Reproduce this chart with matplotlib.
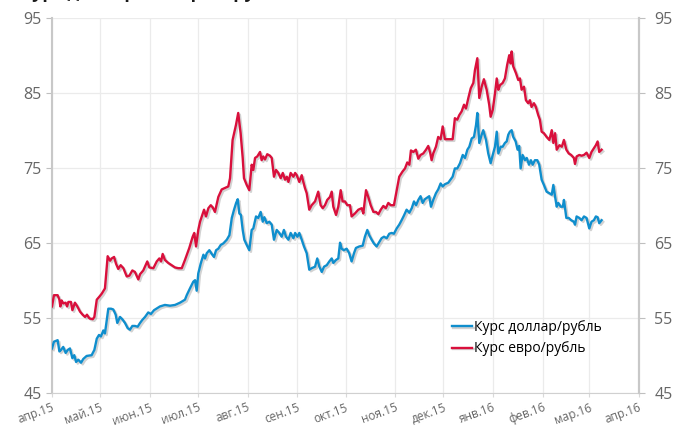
import matplotlib
matplotlib.use('Agg')
import matplotlib.pyplot as plt
import matplotlib.dates as mdates
import matplotlib.patheffects as pe
import pandas as pd

plt.rcParams['font.family'] = ['Open Sans', 'DejaVu Sans']

start = pd.Timestamp('2015-04-01')

# days from 2015-04-01 and rate values
usd_day = [0, 1.2, 3.5, 4.6, 5.6, 7, 8.5, 9.8, 11.2, 12.7, 13.9, 15, 16.4, 18.1, 19.5, 21.6, 24.7, 26.4,
           27.9, 29.3, 30.5, 32, 33, 35.1, 36.8, 38.2, 39.7, 40.7, 42.4, 43.8, 45.5, 47.2, 48.6, 50.1,
           51.7, 53.4, 54.9, 56.3, 58, 60, 61.7, 63.6, 67.3, 70.4, 73.6, 76.7, 79.8, 82.9,
           84, 86, 88.1, 89.2, 90.2, 91.2, 92.7, 94.4, 95.4, 96.5, 98.1, 99.6, 101, 102.3, 103.7, 105.2,
           106.8, 109, 110.6, 112.1, 113.5, 114.8, 115.8, 116.8, 117.8, 118.9, 119.9, 121.4, 123,
           124.5, 125.5, 127.2, 128.6, 130.1, 131.4, 132.4, 133.9, 135.5, 137, 138.4, 140.1, 141.7, 143.2,
           144.6, 145.9, 147.4, 148.8, 150.5, 151.6, 153, 154.2, 155.7, 157.1, 158.8, 160.4, 161.9, 164,
           165.4, 166.7, 168.2, 169.6, 171.3, 172.9, 174.4, 175.4, 177.1, 178.5, 179.6, 180.6, 182, 183.7,
           185.3, 186.8, 188.3,
           189.5, 191.6, 193.7, 195.1, 196.6, 197.8, 199.3, 200.7, 202.4, 204.1, 205.5, 207, 208.7, 210.3,
           211.8, 213.2, 214.9, 216.5, 218, 219.4, 221.1, 222.8, 224.3, 225.7, 227, 228.4, 229.8, 231.1,
           232.5, 233.9, 235.2, 236.3, 237.7, 239.4, 240.8, 242.3, 243.6, 245, 247.1,
           249.8, 251.2, 252.7, 254.4, 256.1, 257.5, 259, 260.2, 261.7, 263.1, 264.4, 265.2, 266.4, 267.9,
           268.9, 270.6, 272, 273.5, 274.8, 276.2, 277.3, 278.3, 279.8, 281, 282.4, 283.5, 284.5, 285.5,
           286.6, 287.6, 289.1, 290.3, 291.3, 292.2, 293.4, 294.9, 296, 297.4, 298.6, 299.7, 301.1, 302.6,
           303.8, 305.3, 306.7, 308.4, 310.1, 311.6, 312.6, 313.7, 314.7, 315.7, 317.2, 318.5, 319.2,
           320.7, 322.2, 323.7, 325.4, 326.1, 327.1, 328.8, 330.2, 331.7, 333.3, 335, 336.4, 337.9, 339.1,
           340.2, 341.2, 342.7]
usd_val = [50.9, 51.8, 52.0, 50.5, 50.7, 51.1, 50.3, 50.7, 50.9, 49.6, 50.0, 49.1, 49.4, 49.0, 49.5, 49.9, 50.0, 50.7,
           52.2, 52.7, 52.5, 53.3, 52.9, 56.2, 56.2, 56.1, 55.4, 54.3, 55.1, 54.8, 54.3, 53.6, 53.4, 53.9,
           53.9, 53.8, 54.3, 54.7, 55.1, 55.7, 55.5, 56.0, 56.5, 56.7, 56.6, 56.7, 57.0, 57.4,
           58.0, 58.9, 59.8, 60.0, 58.6, 60.9, 62.2, 63.4, 62.9, 63.6, 64.0, 63.5, 63.1, 64.0, 64.2, 64.7,
           64.9, 65.4, 66.0, 68.3, 69.4, 70.3, 70.8, 68.9, 68.7, 66.7, 65.4, 64.7, 64.0,
           66.7, 66.9, 68.5, 68.3, 69.1, 67.8, 68.4, 67.6, 67.8, 67.4, 65.4, 66.7, 66.3, 65.8,
           66.7, 65.8, 65.4, 66.3, 65.6, 66.3, 65.8, 66.3, 65.4, 64.5, 63.6, 61.4, 61.6, 61.8,
           62.9, 61.8, 61.1, 61.8, 62.0, 62.5, 62.9, 62.3, 62.7, 62.9, 65.0, 64.2, 64.0, 64.2,
           63.6, 62.5, 63.6,
           64.3, 64.5, 64.6, 65.8, 66.7, 66.0, 65.4, 64.9, 64.5, 65.1, 65.6, 65.8, 65.6, 66.2,
           66.3, 66.2, 66.9, 67.4, 68.0, 68.6, 69.4, 69.0, 69.6, 70.5, 70.0, 70.7, 71.2, 70.3,
           70.8, 71.0, 71.2, 69.8, 70.7, 71.6, 72.1, 72.9, 72.5, 72.8, 73.0,
           73.8, 74.9, 74.9, 75.6, 76.7, 76.3, 77.4, 77.8, 78.9, 79.1, 80.7, 82.3, 78.3, 79.4,
           80.0, 78.7, 76.9, 75.6, 76.7, 77.8, 79.8, 76.9, 77.8, 77.8, 78.3, 78.5, 79.4, 79.8,
           80.0, 79.1, 78.5, 77.4, 77.9, 74.9, 76.7, 76.0, 76.3, 75.4, 76.0, 75.4, 76.0, 76.0,
           75.4, 73.4, 72.7, 71.8, 71.6, 71.4, 72.7, 71.1, 69.8, 70.3, 69.8, 69.8, 70.7,
           68.3, 68.3, 68.0, 67.8, 67.4, 68.5, 68.3, 68.0, 68.5, 68.3, 66.9, 67.8, 68.0, 68.5,
           68.4, 67.6, 68.0]

eur_day = [0, 1.2, 3.5, 4.6, 5.2, 6, 7, 8.5, 9.4, 10.2, 11.8, 12.7, 14.3, 15.8, 17.5, 19.1, 20.6, 21.8, 23.3,
           25.4, 26.4, 27.9, 29.5, 31, 33, 34.7, 36.2, 37.2, 38.7, 39.9, 41.3, 42.8, 44.5, 46.6, 48.2, 50.1,
           51.7, 53.8, 54.9, 56.9, 59.4, 60.7,
           63.2, 65.3, 66.9, 68, 69, 70.4, 72.5, 74.6, 76.7, 78.7, 80.9, 82.9, 85.6, 87.7, 88.7, 89.8, 91.2,
           92.3, 93.7, 94.8, 96, 97.5, 99, 100.2, 101.6, 103.7, 105.8, 109.9, 111, 112.6, 114.7, 116.1,
           117.6, 118.9, 119.7, 121.4, 123,
           124.5, 125.5, 126.6, 128, 129.7, 130.7, 131.7, 132.8, 134.2, 135.9, 137, 138.4, 139.7, 141.1,
           142.6, 143.9, 145.3, 146.4, 147.4, 148.8, 150.5, 151.6, 152.6, 154.2, 155.7, 156.7, 157.7,
           158.8, 160.4, 161.9, 164, 166, 167.5, 168.8, 170.2, 171.6, 173.3, 174.4, 175.4, 177.1, 178.5,
           180, 181.2, 182.7, 184.1,
           185.8, 186.8, 188.9, 191, 193.1, 194.1, 195.8, 197.2, 198.7, 200.4, 202, 203.5, 205, 206.6,
           208.1, 209.7, 211.2, 213.2, 214.9, 216.5, 218.6, 220.1, 221.5, 222.8, 223.8, 225.3, 226.9,
           228.4, 229.8, 231.5, 233.2, 234.6, 235.7, 236.7, 237.7, 239.4, 240.8, 242.3, 243.6, 245, 247.1,
           249.8, 251.2, 252.7, 253.9, 255.4, 256.9, 258.1, 259.6, 261.1, 262.7, 263.7, 265.2, 266.4,
           267.9, 269.3, 271, 272.6, 273.5, 274.8, 276.2, 277.3, 278.3, 279.3, 281, 282.4, 283.8, 285.1,
           286, 286.6, 287.6, 289.3, 290.7, 291.8, 292.8, 294.3, 295.5, 296.9, 298, 299, 300.5, 301.7,
           303.2, 304.2, 305.3, 306.7, 308.4, 310.1, 311.6, 312.6, 313.7, 314.7, 316.4, 317.9, 319.2,
           320.7, 322.2, 323.7, 325.4, 326.1, 327.1, 328.8, 330.2, 331.7, 333.3, 335, 336.4, 337.9,
           339.1, 340.2, 341.2, 342.7]
eur_val = [56.5, 58.0, 58.0, 57.4, 56.5, 57.3, 56.9, 57.0, 56.5, 57.1, 57.1, 56.0, 57.0, 56.5, 55.8, 55.4, 55.1, 55.4, 54.9,
           54.8, 55.1, 57.4, 57.8, 58.2, 58.9, 63.2, 62.6, 62.9, 63.1, 62.2, 61.5, 62.0, 61.6, 60.5, 60.6, 61.3,
           61.1, 60.1, 60.8, 61.3, 62.5, 61.7,
           61.6, 62.5, 62.9, 62.5, 63.5, 62.7, 62.3, 62.0, 61.7, 61.6, 61.6, 62.7, 64.3, 65.8, 66.3, 64.5, 66.7,
           67.8, 68.7, 69.4, 68.5, 69.6, 70.0, 69.7, 69.1, 71.1, 72.1, 72.5, 73.6, 78.7, 80.7, 82.3,
           79.6, 76.3, 73.6, 72.7, 72.0,
           75.4, 74.7, 76.3, 76.5, 77.1, 76.0, 76.5, 76.1, 76.8, 76.6, 76.3, 73.8, 74.7, 74.3,
           73.6, 74.3, 73.4, 73.8, 73.1, 74.3, 73.8, 74.3, 74.0, 73.1, 74.0, 73.1, 72.3,
           71.6, 69.4, 70.0, 70.5, 71.8, 70.0, 69.6, 70.0, 70.7, 71.1, 71.8, 69.8, 68.7, 69.8,
           72.0, 70.5, 70.5, 70.0,
           70.0, 68.5, 68.9, 69.4, 69.6, 68.9, 72.0, 71.1, 70.0, 69.1, 69.1, 68.8, 69.4, 69.9,
           69.6, 70.3, 70.0, 70.0, 72.0, 73.8, 74.5, 74.9, 75.7, 75.4, 77.3, 77.1, 77.4,
           76.2, 76.7, 76.9, 77.4, 77.9, 77.1, 76.0, 76.9, 77.8, 79.1, 78.8, 80.5, 78.8, 78.8,
           78.8, 81.6, 81.4, 82.0, 82.5, 83.4, 82.9, 84.3, 85.6, 86.3, 88.0, 89.6, 84.3,
           85.8, 86.8, 85.4, 83.4, 81.8, 82.7, 84.9, 86.9, 85.4, 86.0, 86.3, 86.9, 88.7, 90.0,
           88.9, 90.5, 88.5, 87.6, 86.7, 86.9, 85.4, 85.8, 84.0, 83.6, 84.0, 83.1, 83.6, 83.1,
           82.0, 81.4, 79.8, 79.6, 79.1, 78.7, 80.0, 78.3, 79.6, 77.4, 78.0, 77.8, 78.7,
           77.4, 76.9, 76.7, 76.3, 75.5, 76.5, 76.7, 76.6, 76.7, 77.0, 76.3, 77.1, 77.6,
           78.0, 78.5, 77.1, 77.4]

month_labels = ['апр.15', 'май.15', 'июн.15', 'июл.15', 'авг.15', 'сен.15', 'окт.15',
                'ноя.15', 'дек.15', 'янв.16', 'фев.16', 'мар.16', 'апр.16']
yticks = [45, 55, 65, 75, 85, 95]

usd_dates = start + pd.to_timedelta(usd_day, unit='D')
eur_dates = start + pd.to_timedelta(eur_day, unit='D')
month_ticks = pd.date_range('2015-04-01', '2016-04-01', freq='MS')

fig = plt.figure(figsize=(6.8, 4.28), dpi=100)
ax = fig.add_axes([0.0765, 0.0825, 0.8632, 0.8761])

shadow = [pe.SimpleLineShadow(offset=(1.2, -1.2), shadow_color='#808080', alpha=0.35), pe.Normal()]
ax.plot(usd_dates, usd_val, color='#0F8ECD', lw=1.7, label='Курс доллар/рубль', path_effects=shadow, zorder=3)
ax.plot(eur_dates, eur_val, color='#D9103C', lw=1.7, label='Курс евро/рубль', path_effects=shadow, zorder=3)

ax.set_xlim(month_ticks[0], month_ticks[-1])
ax.set_ylim(45, 95)
ax.set_xticks(month_ticks)
ax.set_xticklabels(month_labels, rotation=20, ha='right', va='top', rotation_mode='anchor',
                   fontsize=8.5, color='#666666')
ax.set_yticks(yticks)
ax.tick_params(axis='y', labelsize=11.5, labelcolor='#666666', color='#bfbfbf', length=4)
ax.tick_params(axis='x', color='#d9d9d9', length=3, pad=3)
ax.grid(True, color='#ebebeb', lw=0.9)
ax.set_axisbelow(True)

ax.spines['top'].set_visible(False)
ax.spines['left'].set_color('#c8c8c8')
ax.spines['left'].set_linewidth(1.5)
ax.spines['bottom'].set_color('#d0d0d0')
ax.spines['right'].set_color('#c8c8c8')
ax.spines['right'].set_linewidth(1.5)

ax2 = ax.twinx()
ax2.set_ylim(45, 95)
ax2.set_yticks(yticks)
ax2.tick_params(axis='y', labelsize=11.5, labelcolor='#666666', color='#bfbfbf', length=4, pad=7)
for side in ['top', 'left', 'bottom']:
    ax2.spines[side].set_visible(False)
ax2.spines['right'].set_color('#c8c8c8')
ax2.spines['right'].set_linewidth(1.5)

ax.legend(loc='upper left', bbox_to_anchor=(0.664, 0.252), bbox_transform=fig.transFigure,
          frameon=False, fontsize=10, handlelength=1.5, handletextpad=0.15, borderpad=0,
          borderaxespad=0, labelspacing=0.45)

# title of the source chart, cut off by the top edge as in the reference
fig.text(0.03, 1.004, 'Курс доллара и евро к рублю', fontsize=13, fontweight='bold',
         color='#1a1a1a', va='baseline', ha='left')

fig.savefig('out.png', dpi=100)
